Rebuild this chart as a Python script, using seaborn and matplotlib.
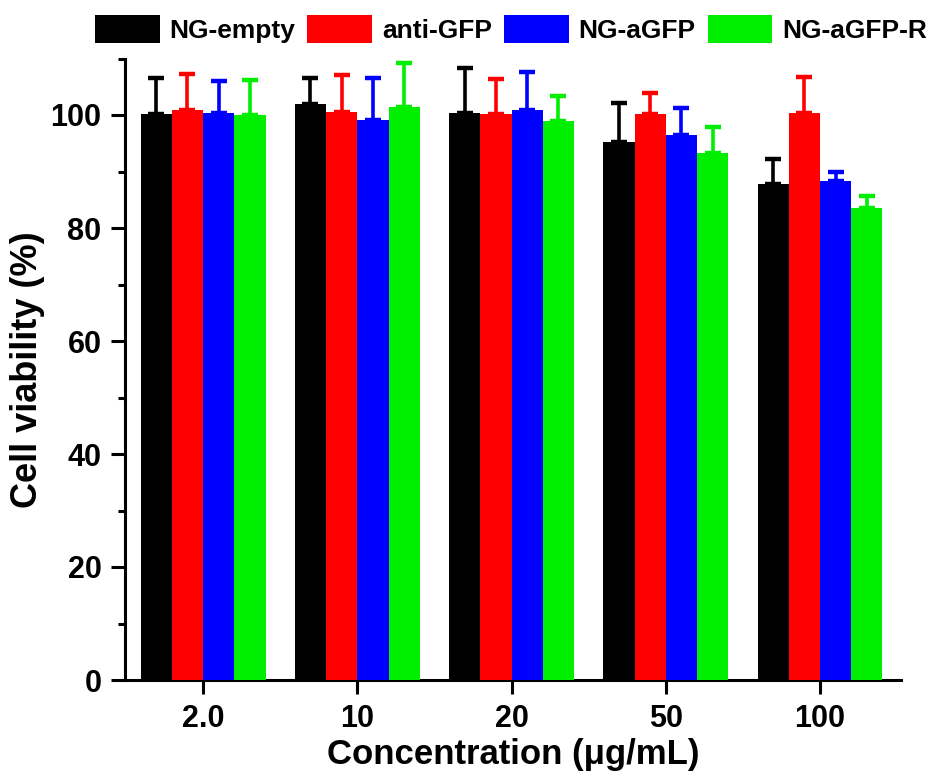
import matplotlib
matplotlib.use("Agg")
import matplotlib.pyplot as plt
from matplotlib.ticker import MultipleLocator
from matplotlib.patches import Patch
import seaborn as sns
import pandas as pd
import numpy as np

# ---- data ----
concentrations = ["2.0", "10", "20", "50", "100"]
groups = ["NG-empty", "anti-GFP", "NG-aGFP", "NG-aGFP-R"]
ng_empty = [100.2, 102.0, 100.3, 95.3, 87.7]
anti_gfp = [100.9, 100.6, 100.1, 100.1, 100.4]
ng_agfp = [100.4, 99.1, 100.9, 96.4, 88.4]
ng_agfp_r = [100.0, 101.4, 98.9, 93.3, 83.5]
err_ng_empty = [6.4, 4.6, 8.1, 6.8, 4.5]
err_anti_gfp = [6.3, 6.4, 6.3, 3.8, 6.4]
err_ng_agfp = [5.7, 7.4, 6.7, 4.8, 1.5]
err_ng_agfp_r = [6.2, 7.8, 4.4, 4.5, 2.1]
colors = ["#000000", "#ff0000", "#0000ff", "#00ee00"]

values = [ng_empty, anti_gfp, ng_agfp, ng_agfp_r]
errors = [err_ng_empty, err_anti_gfp, err_ng_agfp, err_ng_agfp_r]

rows = []
for g, vals in zip(groups, values):
    for c, v in zip(concentrations, vals):
        rows.append({"Concentration": c, "Group": g, "Viability": v})
df = pd.DataFrame(rows)

sns.set_style("ticks")
plt.rcParams["font.family"] = ["Liberation Sans", "DejaVu Sans"]
plt.rcParams["font.weight"] = "bold"
for k in ["text.color", "axes.labelcolor", "xtick.color", "ytick.color",
          "axes.edgecolor"]:
    plt.rcParams[k] = "black"

fig = plt.figure(figsize=(9.33, 7.76), dpi=100)
ax = fig.add_axes([125 / 933, 96 / 776, 776 / 933, 621.5 / 776])

sns.barplot(data=df, x="Concentration", y="Viability", hue="Group",
            order=concentrations, hue_order=groups, palette=colors,
            saturation=1, width=0.81, gap=0, errorbar=None, linewidth=0,
            ax=ax, legend=False, zorder=3)

for cont, errs, col in zip(ax.containers, errors, colors):
    xs = [b.get_x() + b.get_width() / 2 for b in cont]
    ys = [b.get_height() for b in cont]
    ax.errorbar(xs, ys, yerr=[np.zeros(len(errs)), errs], fmt="none",
                ecolor=col, elinewidth=2.6, capsize=5.5, capthick=3.2,
                zorder=2)

ax.set_xlim(-0.506, 4.525)
ax.set_ylim(0, 110)
ax.yaxis.set_major_locator(MultipleLocator(20))
ax.yaxis.set_minor_locator(MultipleLocator(10))

for s in ["top", "right"]:
    ax.spines[s].set_visible(False)
for s in ["left", "bottom"]:
    ax.spines[s].set_linewidth(2.2)
    ax.spines[s].set_color("black")

ax.tick_params(axis="both", which="major", direction="out", length=10,
               width=2.2, labelsize=22, pad=7, color="black", labelcolor="black")
ax.tick_params(axis="y", which="minor", direction="out", length=5, width=2.2,
               color="black")
for lab in ax.get_xticklabels() + ax.get_yticklabels():
    lab.set_fontweight("bold")

ax.set_xlabel("Concentration (μg/mL)", fontsize=25, fontweight="bold",
              labelpad=3, color="black")
ax.set_ylabel("Cell viability (%)", fontsize=26, fontweight="bold",
              labelpad=4, color="black")

handles = [Patch(facecolor=c, edgecolor="none") for c in colors]
fig.legend(handles, groups, loc="center", bbox_to_anchor=(511 / 933, 1 - 29 / 776),
           ncol=4, frameon=False, handlelength=2.45,
           handleheight=1.3, handletextpad=0.38, columnspacing=0.45,
           borderpad=0, borderaxespad=0, prop={"weight": "bold", "size": 19},
           labelcolor="black")

fig.savefig("out.png", dpi=100)
